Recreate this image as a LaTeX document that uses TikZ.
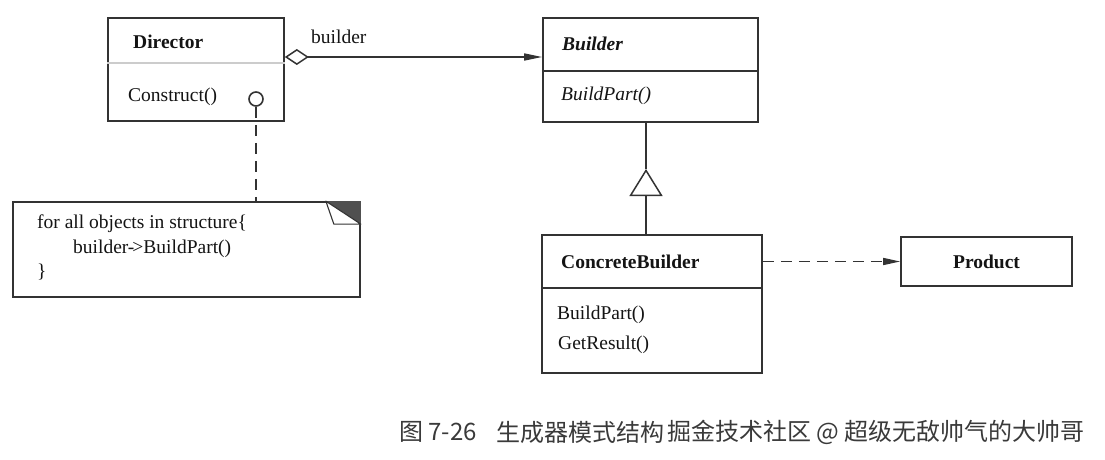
\documentclass[tikz,border=0pt]{standalone}
\usepackage{fontspec}
\setmainfont{Liberation Serif}
\newfontfamily\cjk{Noto Sans CJK SC}
\usetikzlibrary{arrows.meta,calc}
\definecolor{ln}{HTML}{333333}
\definecolor{tx}{HTML}{141414}
\definecolor{capc}{HTML}{3A3A3A}
\definecolor{fold}{HTML}{505050}
\begin{document}
\begin{tikzpicture}[x=1pt,y=-1pt,
  box/.style={draw=ln,line width=1.7pt,fill=white,inner sep=0pt},
  lbl/.style={anchor=west,inner sep=0pt,text=tx,font=\fontsize{19.5}{22}\selectfont},
  divider/.style={draw=ln,line width=1.6pt},
  lightdiv/.style={draw=gray!40,line width=1.2pt},
  conn/.style={draw=ln,line width=1.6pt},
  dashconn/.style={draw=ln,line width=1.6pt,dash pattern=on 11pt off 7pt},
  captxt/.style={anchor=west,inner sep=0pt,text=capc,font=\cjk\fontsize{24}{28}\selectfont}
]
\useasboundingbox (0,0) rectangle (1105,460);

% Director
\node[box,minimum width=176pt,minimum height=103pt] (dir) at (196,69.5) {};
\draw[lightdiv] (dir.west |- 0,63) -- (dir.east |- 0,63);
\node[lbl,font=\bfseries\fontsize{19.5}{22}\selectfont] (dirname) at (133,42) {Director};
\node[lbl] (construct) at (128,97) {Construct()};
\node[circle,draw=ln,line width=1.6pt,minimum size=14pt,inner sep=0pt] (circ) at (256,99) {};

% Builder
\node[box,minimum width=215pt,minimum height=104pt] (builder) at (650.5,70) {};
\draw[divider] (builder.west |- 0,71) -- (builder.east |- 0,71);
\node[lbl,font=\bfseries\itshape\fontsize{19.5}{22}\selectfont] (bname) at (562,44) {Builder};
\node[lbl,font=\itshape\fontsize{19.5}{22}\selectfont] (bpart) at (561,96) {BuildPart()};

% ConcreteBuilder
\node[box,minimum width=220pt,minimum height=138pt] (cb) at (652,304) {};
\draw[divider] (cb.west |- 0,288) -- (cb.east |- 0,288);
\node[lbl,font=\bfseries\fontsize{19.5}{22}\selectfont] (cbname) at (561,262) {ConcreteBuilder};
\node[lbl] (cbpart) at (557,315) {BuildPart()};
\node[lbl] (cbres) at (558,345) {GetResult()};

% Product
\node[box,minimum width=171pt,minimum height=49pt,font=\bfseries\fontsize{19.5}{22}\selectfont,text=tx] (prod) at (986.5,261.5) {Product};

% Note
\node[box,minimum width=347pt,minimum height=95pt] (note) at (186.5,249.5) {};
\fill[fold] ([xshift=-35pt]note.north east) -- (note.north east) -- ([yshift=-23pt]note.north east) -- cycle;
\filldraw[fill=white,draw=ln,line width=1.1pt,line join=round] ([xshift=-35pt]note.north east) -- ([xshift=-27pt,yshift=-23pt]note.north east) -- ([yshift=-23pt]note.north east) -- cycle;
\node[lbl] (n1) at (37,224) {for all objects in structure\{};
\node[lbl] (n2) at (73,249) {builder\kern-0.5pt-\kern-2pt>BuildPart()};
\node[lbl] (n3) at (37,272) {\}};

% Connectors
\draw[dashconn] (circ.south) -- (circ.south |- note.north);
\node[inner sep=0pt,anchor=west,text=tx,font=\fontsize{19.5}{22}\selectfont] (aggl) at (311,37) {builder};
\draw[conn,{Diamond[open,length=24pt,width=16pt,line width=1.5pt]}-{Triangle[length=18pt,width=7pt]}]
  ([yshift=12.5pt]dir.east) -- ([yshift=12.5pt]dir.east -| builder.west);
\coordinate (inhx) at (646,0);
\coordinate (apex) at (646,169);
\draw[conn,-{Triangle[open,length=27pt,width=33pt,line width=1.5pt]}] (inhx |- cb.north) -- (apex);
\draw[conn] (apex) -- (inhx |- builder.south);
\draw[dashconn,-{Triangle[length=17pt,width=7pt]}] (cb.east |- prod.west) -- (prod.west);

% Caption
\node[captxt] (capnum) at (399,432) {图 7-26};
\node[captxt] (captitle) at (496,432) {生成器模式结构};
\node[captxt] (wm) at (667,432) {掘金技术社区 @ 超级无敌帅气的大帅哥};
\end{tikzpicture}
\end{document}
